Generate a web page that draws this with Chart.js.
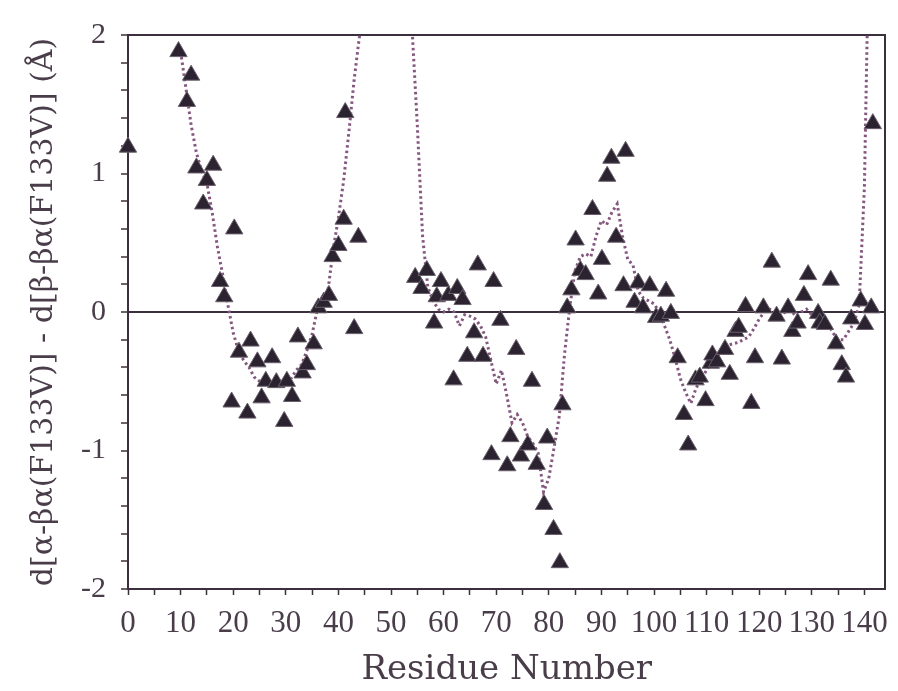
<!DOCTYPE html>
<html>
<head>
<meta charset="utf-8">
<script src="https://cdn.jsdelivr.net/npm/chart.js@4.4.1/dist/chart.umd.min.js"></script>
<style>
  html, body { margin: 0; padding: 0; background: #ffffff; }
  #wrap { width: 898px; height: 691px; }
</style>
</head>
<body>
<div id="wrap"><canvas id="diffChart" width="898" height="691"></canvas></div>
<script>
// per-residue distance differences (triangles)
const residues = [
  0, 9.6, 11.2, 12.0, 13.0, 14.3, 15.0, 16.2, 17.5, 18.3,
  19.7, 20.2, 21.1, 22.7, 23.3, 24.6, 25.4, 26.2, 27.4, 28.2,
  29.7, 30.2, 31.2, 32.3, 33.2, 34.0, 35.3, 36.2, 37.2, 38.2,
  38.9, 40.0, 41.0, 41.3, 43.0, 43.8, 54.6, 55.8, 56.8, 58.2,
  58.7, 59.5, 60.9, 61.9, 62.6, 63.6, 64.5, 65.8, 66.5, 67.5,
  69.1, 69.5, 70.8, 72.1, 72.7, 73.8, 74.7, 76.0, 76.8, 77.7,
  79.1, 79.7, 80.9, 82.1, 82.6, 83.5, 84.3, 85.1, 86.0, 87.0,
  88.3, 89.4, 90.1, 91.1, 91.9, 92.8, 94.2, 94.6, 96.3, 97.0,
  97.9, 99.2, 100.4, 101.3, 102.3, 103.2, 104.5, 105.7, 106.5, 107.9,
  108.7, 109.8, 110.8, 111.1, 112.0, 113.5, 114.4, 115.5, 116.1, 117.4,
  118.5, 119.2, 120.8, 122.4, 123.3, 124.3, 125.5, 126.3, 127.3, 128.5,
  129.3, 131.2, 131.5, 132.5, 133.6, 134.6, 135.7, 136.5, 137.5, 139.3,
  140.1, 141.3, 141.6
];
const deltas = [
  1.19, 1.88, 1.52, 1.71, 1.04, 0.78, 0.95, 1.06, 0.22, 0.11,
  -0.65, 0.60, -0.29, -0.73, -0.21, -0.36, -0.62, -0.50, -0.33, -0.51,
  -0.79, -0.50, -0.61, -0.18, -0.44, -0.38, -0.23, 0.03, 0.07, 0.12,
  0.40, 0.48, 0.67, 1.44, -0.12, 0.54, 0.25, 0.17, 0.30, -0.08,
  0.11, 0.22, 0.12, -0.49, 0.17, 0.09, -0.32, -0.15, 0.34, -0.32,
  -1.03, 0.22, -0.06, -1.11, -0.90, -0.27, -1.04, -0.96, -0.50, -1.10,
  -1.39, -0.91, -1.57, -1.81, -0.67, 0.03, 0.16, 0.52, 0.30, 0.27,
  0.74, 0.13, 0.38, 0.98, 1.11, 0.54, 0.19, 1.16, 0.07, 0.21,
  0.03, 0.19, -0.04, -0.03, 0.15, -0.01, -0.33, -0.74, -0.96, -0.49,
  -0.47, -0.64, -0.37, -0.31, -0.36, -0.27, -0.45, -0.14, -0.11, 0.04,
  -0.66, -0.33, 0.03, 0.36, -0.03, -0.34, 0.03, -0.14, -0.08, 0.12,
  0.27, -0.01, -0.08, -0.09, 0.23, -0.23, -0.38, -0.47, -0.05, 0.08,
  -0.09, 0.03, 1.36
];

// smoothed trace (dotted), runs off the top near 45-53 and after 140
const curveResidues = [
  10, 11, 12, 13, 14, 15, 16, 17, 18, 19, 20, 21, 22, 23, 24, 25, 26, 27, 28, 29,
  30, 31, 32, 33, 34, 35, 36, 37, 38, 39, 40, 41, 42, 43, 44, 45, 53, 54, 55, 56,
  57, 58, 59, 60, 61, 62, 63, 64, 65, 66, 67, 68, 69, 70, 71, 72, 73, 74, 75, 76,
  77, 78, 79, 80, 81, 82, 83, 84, 85, 86, 87, 88, 89, 90, 91, 92, 93, 94, 95, 96,
  97, 98, 99, 100, 101, 102, 103, 104, 105, 106, 107, 108, 109, 110, 111, 112, 113, 114, 115, 116,
  117, 118, 119, 120, 121, 122, 123, 124, 125, 126, 127, 128, 129, 130, 131, 132, 133, 134, 135, 136,
  137, 138, 139, 140, 141
];
const curveValues = [
  1.88, 1.62, 1.35, 1.15, 1.02, 0.93, 0.72, 0.47, 0.27, 0.05, -0.15, -0.28, -0.35, -0.40, -0.47, -0.50, -0.50, -0.50, -0.50, -0.50,
  -0.50, -0.48, -0.42, -0.38, -0.28, -0.16, 0.02, 0.08, 0.15, 0.45, 0.68, 0.95, 1.30, 1.68, 1.99, 3.0, 3.0, 2.05, 1.35, 0.55,
  0.18, 0.08, 0.02, 0.00, 0.02, 0.00, -0.10, -0.02, -0.03, -0.05, -0.10, -0.18, -0.35, -0.52, -0.42, -0.60, -0.80, -0.74, -0.80, -0.90,
  -0.95, -1.02, -1.30, -1.20, -0.98, -0.75, -0.30, 0.04, 0.30, 0.40, 0.42, 0.40, 0.55, 0.66, 0.63, 0.72, 0.78, 0.55, 0.38, 0.34,
  0.15, 0.10, 0.08, 0.06, 0.00, -0.10, -0.20, -0.33, -0.48, -0.58, -0.66, -0.55, -0.48, -0.42, -0.36, -0.32, -0.27, -0.24, -0.23, -0.22,
  -0.20, -0.18, -0.12, -0.05, 0.00, 0.02, 0.00, -0.02, 0.00, 0.01, -0.03, 0.00, 0.02, -0.02, -0.05, -0.05, -0.08, -0.15, -0.20, -0.20,
  -0.14, -0.08, 0.05, 0.90, 3.0
];

const xTicks = [0, 5, 10, 15, 20, 25, 30, 35, 40, 45, 50, 55, 60, 65, 70, 75, 80, 85, 90, 95, 100, 105, 110, 115, 120, 125, 130, 135, 140];
const yTicks = [-2, -1.8, -1.6, -1.4, -1.2, -1, -0.8, -0.6, -0.4, -0.2, 0, 0.2, 0.4, 0.6, 0.8, 1, 1.2, 1.4, 1.6, 1.8, 2];

const ink = '#3b2f3d';
const textInk = '#4a3d4a';

const points = residues.map((r, i) => ({ x: r, y: deltas[i] }));
const curve = curveResidues.map((r, i) => ({ x: r, y: curveValues[i] }));

new Chart(document.getElementById('diffChart'), {
  type: 'scatter',
  data: {
    datasets: [
      {
        type: 'line',
        data: curve,
        borderColor: '#84577f',
        borderWidth: 3,
        borderDash: [2.5, 3],
        pointRadius: 0,
        fill: false,
        tension: 0,
        order: 2
      },
      {
        data: points,
        pointStyle: 'triangle',
        pointRadius: 10,
        pointHoverRadius: 10,
        backgroundColor: '#2c2330',
        borderColor: '#6a5f6c',
        borderWidth: 1,
        clip: false,
        order: 1
      }
    ]
  },
  options: {
    responsive: false,
    animation: false,
    events: [],
    layout: { padding: 0 },
    plugins: { legend: { display: false }, tooltip: { enabled: false } },
    scales: {
      x: {
        type: 'linear',
        position: 'bottom',
        min: 0,
        max: 144,
        afterBuildTicks: (s) => { s.ticks = xTicks.map(v => ({ value: v })); },
        afterFit: (s) => { s.height = 102; },
        ticks: {
          autoSkip: false,
          maxRotation: 0,
          padding: 10,
          color: textInk,
          font: { family: 'Liberation Serif', size: 31 },
          callback: (v) => (v % 10 === 0 ? String(v) : '')
        },
        grid: { drawOnChartArea: false, drawTicks: true, tickLength: 6, tickColor: ink, tickWidth: 1.5 },
        border: { display: true, color: ink, width: 2 },
        title: {
          display: true,
          text: 'Residue Number',
          color: textInk,
          font: { family: 'DejaVu Serif', size: 34 },
          padding: { top: 0, bottom: 0 }
        }
      },
      xTop: {
        type: 'linear',
        position: 'top',
        min: 0,
        max: 144,
        afterFit: (s) => { s.height = 35; },
        ticks: { display: false },
        grid: { drawOnChartArea: false, drawTicks: false },
        border: { display: true, color: ink, width: 2 }
      },
      y: {
        type: 'linear',
        position: 'left',
        min: -2,
        max: 2,
        afterBuildTicks: (s) => { s.ticks = yTicks.map(v => ({ value: v })); },
        afterFit: (s) => { s.width = 128; },
        ticks: {
          autoSkip: false,
          padding: 15,
          color: textInk,
          font: { family: 'Liberation Serif', size: 30 },
          callback: (v) => (Math.abs(v - Math.round(v)) < 1e-6 ? String(Math.round(v)) : '')
        },
        grid: {
          drawOnChartArea: true,
          drawTicks: true,
          tickLength: 7,
          tickColor: ink,
          tickWidth: 1.5,
          lineWidth: 2,
          color: (ctx) => (ctx.tick && Math.abs(ctx.tick.value) < 1e-6 ? ink : 'rgba(0,0,0,0)')
        },
        border: { display: true, color: ink, width: 2 },
        title: {
          display: true,
          text: 'd[α-βα(F133V)] - d[β-βα(F133V)] (Å)',
          color: textInk,
          font: { family: 'DejaVu Serif', size: 30 },
          padding: { top: 26, bottom: 0 }
        }
      },
      yRight: {
        type: 'linear',
        position: 'right',
        min: -2,
        max: 2,
        afterFit: (s) => { s.width = 7; },
        ticks: { display: false },
        grid: { drawOnChartArea: false, drawTicks: false },
        border: { display: true, color: ink, width: 2 }
      }
    }
  }
});
</script>
</body>
</html>
